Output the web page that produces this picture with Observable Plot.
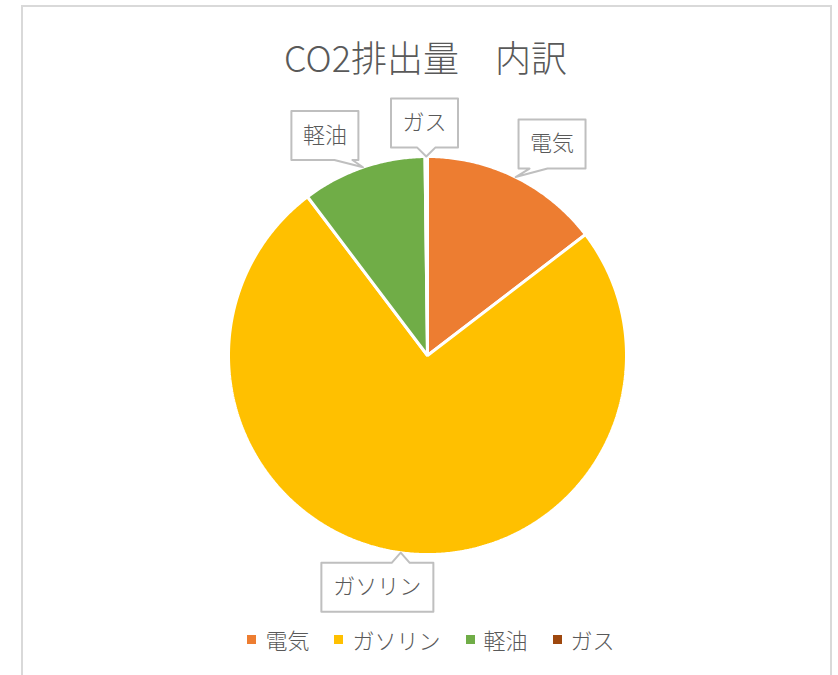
<!DOCTYPE html>
<html><head><meta charset="utf-8">
<script src="https://cdn.jsdelivr.net/npm/d3@7"></script>
<script src="https://cdn.jsdelivr.net/npm/@observablehq/plot@0.6"></script>
<style>
html,body{margin:0;padding:0;background:#fff;}
body{width:838px;height:675px;overflow:hidden;position:relative;font-family:"Noto Sans CJK JP","Noto Sans",sans-serif;font-weight:300;}
#frame{position:absolute;left:21px;top:5px;width:807px;height:720px;border:2px solid #d9d9d9;}
#title{position:absolute;left:0;width:851px;top:36px;text-align:center;font-size:36px;line-height:40px;color:#595959;white-space:nowrap;}
#chart{position:absolute;left:0;top:95px;}
#legend{position:absolute;left:0;width:862px;top:624px;height:30px;display:flex;justify-content:center;align-items:center;font-size:22px;color:#595959;}
#legend .item{display:flex;align-items:center;margin-right:25px;}
#legend .item:last-child{margin-right:0;}
#legend .sw{width:9px;height:9px;margin-right:9px;display:inline-block;}
</style>
</head><body>
<div id="frame"></div>
<div id="title">CO2排出量　内訳</div>
<div id="chart"></div>
<div id="legend"></div>
<script>
// ---- data ----
const categories = ["電気", "ガソリン", "軽油", "ガス"];
const shares = [14.6, 75.1, 10.1, 0.2];
const colors = ["#ED7D31", "#FFC000", "#70AD47", "#9E480E"];
// ---- callout layout: angle (deg, clockwise from 12 o'clock) and distance (in pie radii) of each label box centre ----
const labelAngles = [30.5, 192.2, -25.0, -0.74];
const labelDist = [1.233, 1.192, 1.220, 1.168];

const W = 838, H = 520, R = 199;
const cx = 427, mTop = 61, mBottom = H - mTop - 2 * R;
const pxu = 1 / R; // one pixel in data units

const arcs = d3.pie().sort(null).value(d => d)(shares);
const polar = (a, r) => ({x: r * Math.sin(a), y: r * Math.cos(a)});

// slice outlines
const sliceRows = [];
arcs.forEach((a, i) => {
  const cat = categories[i];
  sliceRows.push({cat, x: 0, y: 0});
  const n = Math.max(2, Math.ceil((a.endAngle - a.startAngle) / (Math.PI / 360)));
  for (let k = 0; k <= n; k++) {
    const t = a.startAngle + (a.endAngle - a.startAngle) * k / n;
    sliceRows.push({cat, ...polar(t, 1)});
  }
});

// callouts
const calloutRows = [], labelRows = [];
arcs.forEach((a, i) => {
  const label = categories[i];
  const mid = (a.startAngle + a.endAngle) / 2;
  const tip = polar(mid, 1);
  const c = polar(labelAngles[i] * Math.PI / 180, labelDist[i]);
  const w = (label.length * 22.5 + 22) * pxu, h = 49 * pxu;
  const L = c.x - w / 2, Rr = c.x + w / 2, T = c.y + h / 2, B = c.y - h / 2;
  const bc = Math.min(Math.max(tip.x, L + 20 * pxu), Rr - 15 * pxu);
  const nh = 9 * pxu;
  let pts;
  if (tip.y < B) {
    pts = [[L, T], [Rr, T], [Rr, B], [bc + nh, B], [tip.x, tip.y], [bc - nh, B], [L, B]];
  } else {
    pts = [[L, T], [bc - nh, T], [tip.x, tip.y], [bc + nh, T], [Rr, T], [Rr, B], [L, B]];
  }
  pts.forEach(p => calloutRows.push({label, x: p[0], y: p[1]}));
  labelRows.push({label, x: c.x, y: c.y});
});

const chart = Plot.plot({
  width: W, height: H,
  marginLeft: cx - R, marginRight: W - cx - R,
  marginTop: mTop, marginBottom: mBottom,
  x: {domain: [-1, 1], axis: null},
  y: {domain: [-1, 1], axis: null},
  color: {domain: categories, range: colors},
  style: {fontFamily: "'Noto Sans CJK JP', sans-serif", background: "transparent"},
  marks: [
    Plot.line(sliceRows, {x: "x", y: "y", z: "cat", fill: "cat", stroke: "white", strokeWidth: 3, curve: "linear-closed", strokeLinejoin: "miter"}),
    Plot.line(calloutRows, {x: "x", y: "y", z: "label", fill: "white", stroke: "#bfbfbf", strokeWidth: 2, curve: "linear-closed"}),
    Plot.text(labelRows, {x: "x", y: "y", text: "label", fontSize: 22, fontWeight: 300, fill: "#595959"})
  ]
});
document.getElementById("chart").appendChild(chart);

// legend from the plot's colour scale
const cs = chart.scale("color");
const lg = document.getElementById("legend");
cs.domain.forEach((d, i) => {
  const it = document.createElement("div");
  it.className = "item";
  const sw = document.createElement("span");
  sw.className = "sw";
  sw.style.background = cs.range[i];
  it.appendChild(sw);
  it.appendChild(document.createTextNode(d));
  lg.appendChild(it);
});
</script>
</body></html>
